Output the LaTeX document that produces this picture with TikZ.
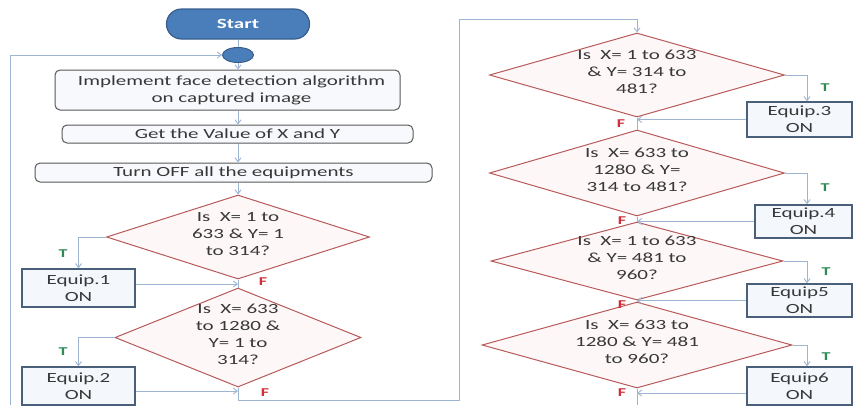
\documentclass[tikz,border=0pt]{standalone}
\usepackage{fontspec}
\setmainfont{Carlito}[FakeStretch=1.5]
\usetikzlibrary{shapes.geometric,arrows.meta}
\definecolor{conn}{HTML}{9DB4D3}
\definecolor{diaedge}{HTML}{B85A5A}
\definecolor{diafill}{HTML}{FDF7F7}
\definecolor{boxedge}{HTML}{595959}
\definecolor{boxfill}{HTML}{F7F9FC}
\definecolor{eqedge}{HTML}{4A5F7A}
\definecolor{eqfill}{HTML}{F4F7FC}
\definecolor{startfill}{HTML}{4A7EBB}
\definecolor{startedge}{HTML}{385D8A}
\definecolor{tgreen}{HTML}{2E8B57}
\definecolor{fred}{HTML}{D0303A}
\definecolor{txt}{HTML}{383838}
\newcommand\dtxt[1]{\raisebox{-3.5pt}{\smash{\makebox[0pt]{\begin{tabular}{@{}c@{}}#1\end{tabular}}}}}
\tikzset{
  every node/.style={font=\fontsize{14}{17}\selectfont, text=txt},
  dia/.style={diamond, draw=diaedge, fill=diafill, line width=1pt, inner sep=0pt},
  procbox/.style={rectangle, rounded corners=5pt, draw=boxedge, fill=boxfill, line width=1pt, inner sep=0pt, align=center},
  eqbox/.style={rectangle, draw=eqedge, fill=eqfill, line width=1.5pt, inner sep=0pt, align=center},
  startbox/.style={rectangle, rounded corners=15pt, draw=startedge, fill=startfill, line width=1.2pt, text=white, font=\fontsize{14}{17}\selectfont\bfseries},
  connect/.style={ellipse, draw=startedge, fill=startfill, line width=1pt, inner sep=0pt},
  flow/.style={draw=conn, line width=0.9pt},
  arr/.style={flow, -{Straight Barb[length=4pt,width=6pt]}},
  tlab/.style={text=tgreen, font=\fontsize{12}{14}\selectfont\bfseries},
  flab/.style={text=fred, font=\fontsize{12}{14}\selectfont\bfseries},
}
\begin{document}
\begin{tikzpicture}[x=1pt,y=-1pt]
\useasboundingbox (0,0) rectangle (853,405);
% top part
\node[startbox, minimum width=143pt, minimum height=30pt] (start) at (238,24) {Start};
\node[connect, minimum width=31pt, minimum height=15pt] (cn) at (238,55) {};
\node[procbox, minimum width=345pt, minimum height=40pt] (b1) at (227.5,90) {\hspace*{8pt}Implement face detection algorithm\\\hspace*{8pt}on captured image};
\node[procbox, minimum width=351pt, minimum height=18pt] (b2) at (237.5,134) {Get the Value of X and Y};
\node[procbox, minimum width=397pt, minimum height=19pt] (b3) at (233.5,172.5) {Turn OFF all the equipments};
% left column
\node[dia, minimum width=263pt, minimum height=84pt] (d1) at (238,237) {\dtxt{Is~ X= 1 to\\633 \& Y= 1\\to 314?}};
\node[dia, minimum width=246pt, minimum height=99pt] (d2) at (238,337.5) {\dtxt{Is~ X= 633\\to 1280 \&\\Y= 1 to\\314?}};
\node[eqbox, minimum width=113pt, minimum height=38pt] (e1) at (78.5,288) {Equip.1\\ON};
\node[eqbox, minimum width=113pt, minimum height=38pt] (e2) at (78.5,386) {Equip.2\\ON};
% right column
\node[dia, minimum width=295pt, minimum height=84pt] (d3) at (637,75) {\dtxt{Is~ X= 1 to 633\\\& Y= 314 to\\481?}};
\node[dia, minimum width=295pt, minimum height=86pt] (d4) at (637,173) {\dtxt{Is~ X= 633 to\\1280 \& Y=\\314 to 481?}};
\node[dia, minimum width=292pt, minimum height=78pt] (d5) at (637,261) {\dtxt{Is~ X= 1 to 633\\\& Y= 481 to\\960?}};
\node[dia, minimum width=310pt, minimum height=86pt] (d6) at (637,345) {\dtxt{Is~ X= 633 to\\1280 \& Y= 481\\to 960?}};
\node[eqbox, minimum width=105pt, minimum height=35pt] (e3) at (799.5,119.5) {Equip.3\\ON};
\node[eqbox, minimum width=97pt, minimum height=33pt] (e4) at (803.5,221.5) {Equip.4\\ON};
\node[eqbox, minimum width=105pt, minimum height=33pt] (e5) at (799.5,300.5) {Equip5\\ON};
\node[eqbox, minimum width=105pt, minimum height=38pt] (e6) at (799.5,386) {Equip6\\ON};
% free ends
\coordinate (loopL) at (10,405);
\coordinate (turn1) at (238,400);
\coordinate (turn2) at (459,400);
\coordinate (turn3) at (459,19);
\coordinate (endR) at (637,405);
% main chain
\draw[flow] (start.south) -- (cn.north);
\draw[arr] (cn.south) -- (cn.south |- b1.north);
\draw[arr] (b1.south -| cn.south) -- (b2.north -| cn.south);
\draw[arr] (b2.south -| cn.south) -- (b3.north -| cn.south);
\draw[arr] (b3.south -| cn.south) -- (d1.north);
\draw[arr] (loopL) -- (loopL |- cn.west) -- (cn.west);
% left column
\draw[arr] (d1.west) -| (e1.north);
\draw[arr] ([yshift=4pt]e1.east) -- ([yshift=4pt]e1.east -| d1.south);
\draw[flow] (d1.south) -- (d2.north);
\draw[arr] (d2.west) -| (e2.north);
\draw[arr] ([yshift=-5pt]e2.east) -- ([yshift=-5pt]e2.east -| d2.south);
\draw[arr] (d2.south) -- (turn1) -- (turn2) -- (turn3) -- (turn3 -| d3.north) -- (d3.north);
% right column
\draw[arr] (d3.east) -| ([xshift=7.5pt]e3.north);
\draw[arr] (e3.west) -- (e3.west -| d3.south);
\draw[flow] (d3.south) -- (d4.north);
\draw[arr] (d4.east) -| ([xshift=3.5pt]e4.north);
\draw[arr] (e4.west) -- (e4.west -| d4.south);
\draw[flow] (d4.south) -- (d5.north);
\draw[arr] (d5.east) -| ([xshift=7.5pt]e5.north);
\draw[arr] (e5.west) -- (e5.west -| d5.south);
\draw[flow] (d5.south) -- (d6.north);
\draw[arr] (d6.east) -| ([xshift=7.5pt]e6.north);
\draw[arr] ([yshift=-7pt]e6.west) -- ([yshift=-7pt]e6.west -| d6.south);
\draw[flow] (d6.south) -- (endR);
% labels
\node[tlab] (t1) at (63,254) {T};
\node[tlab] (t2) at (63,352) {T};
\node[flab] (f1) at (263,282) {F};
\node[flab] (f2) at (265,393) {F};
\node[tlab] (t3) at (825,88) {T};
\node[tlab] (t4) at (825,188) {T};
\node[tlab] (t5) at (826,272) {T};
\node[tlab] (t6) at (826,357) {T};
\node[flab] (f3) at (621,124) {F};
\node[flab] (f4) at (622,221) {F};
\node[flab] (f5) at (622,305) {F};
\node[flab] (f6) at (622,393) {F};
\end{tikzpicture}
\end{document}
